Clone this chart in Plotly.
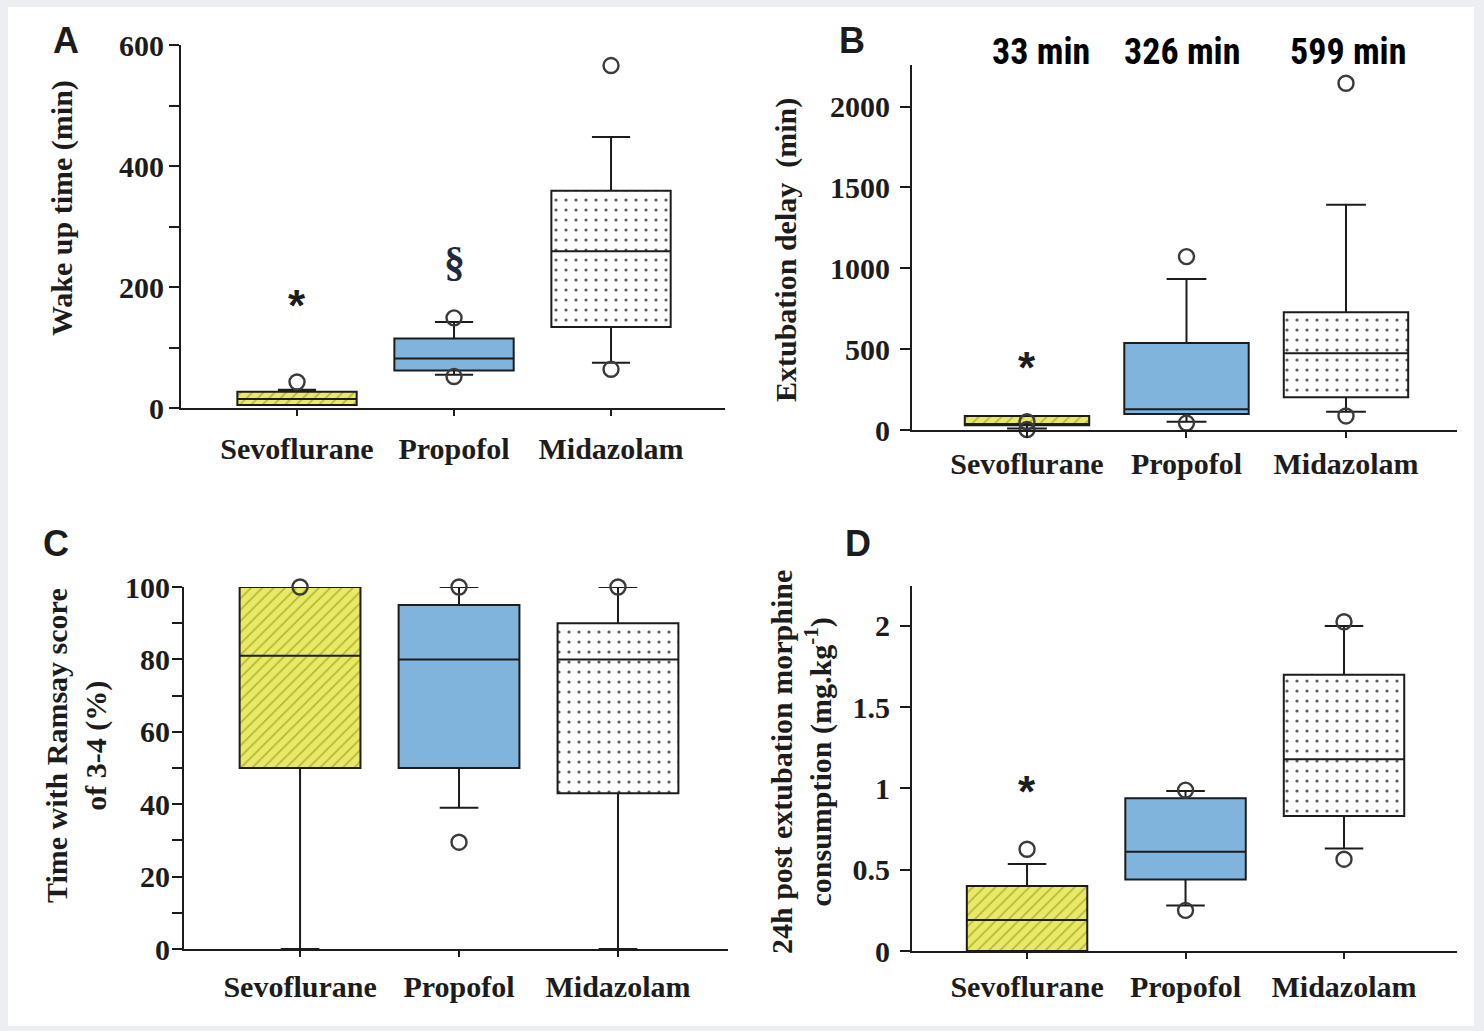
import plotly.graph_objects as go

W, H = 1484, 1031

categories = ["Sevoflurane", "Propofol", "Midazolam"]
positions = [0, 1, 2]

# Panel A - Wake up time (min)
a_q1 = [5, 62, 134]
a_med = [15, 82, 259]
a_q3 = [27, 115, 359]
a_low = [5, 55, 75]
a_up = [30, 142, 448]
a_out_x = [0, 1, 1, 2, 2]
a_out_y = [43, 149, 52, 566, 64]
a_ticks = [0, 200, 400, 600]

# Panel B - Extubation delay (min)
b_q1 = [30, 99, 202]
b_med = [37, 128, 474]
b_q3 = [86, 538, 728]
b_low = [10, 51, 113]
b_up = [86, 934, 1393]
b_out_x = [0, 0, 1, 1, 2, 2]
b_out_y = [51, 3, 1072, 43, 2144, 87]
b_ticks = [0, 500, 1000, 1500, 2000]
b_header = ["33 min", "326 min", "599 min"]

# Panel C - Time with Ramsay score of 3-4 (%)
c_q1 = [50, 50, 43]
c_med = [81, 80, 80]
c_q3 = [100, 95, 90]
c_low = [0, 39, 0]
c_up = [100, 100, 100]
c_out_x = [0, 1, 1, 2]
c_out_y = [100, 100, 29.5, 100]
c_ticks = [0, 20, 40, 60, 80, 100]

# Panel D - 24h post extubation morphine consumption (mg.kg-1)
d_q1 = [0, 0.44, 0.83]
d_med = [0.19, 0.61, 1.18]
d_q3 = [0.40, 0.94, 1.70]
d_low = [0, 0.28, 0.63]
d_up = [0.535, 0.985, 2.0]
d_out_x = [0, 1, 1, 2, 2]
d_out_y = [0.626, 0.99, 0.25, 2.026, 0.565]
d_ticks = [0, 0.5, 1, 1.5, 2]
d_ticktext = ["0", "0.5", "1", "1.5", "2"]

YELLOW = "#e8ea66"
HATCH = "#b4b43a"
BLUE = "#80b4dc"
INK = "#1c1c1c"
SERIF = "Liberation Serif, Times New Roman, serif"
SANS = "Liberation Sans, Arial, sans-serif"


def px_x(x):
    return x / W


def px_y(y):
    return 1 - y / H


fig = go.Figure()

panels = [
    dict(key="", q1=a_q1, med=a_med, q3=a_q3, low=a_low, up=a_up, ox=a_out_x, oy=a_out_y,
         xdom=(181, 725), ydom=(408, 45), xr=(-0.739, 2.726), yr=(0, 600),
         ticks=a_ticks, ticktext=[str(t) for t in a_ticks], minor=100, width=0.76,
         standoff=7, ystandoff=-1),
    dict(key="2", q1=b_q1, med=b_med, q3=b_q3, low=b_low, up=b_up, ox=b_out_x, oy=b_out_y,
         xdom=(912, 1457), ydom=(430, 65), xr=(-0.721, 2.696), yr=(0, 2257),
         ticks=b_ticks, ticktext=[str(t) for t in b_ticks], minor=None, width=0.78,
         standoff=0, ystandoff=4),
    dict(key="3", q1=c_q1, med=c_med, q3=c_q3, low=c_low, up=c_up, ox=c_out_x, oy=c_out_y,
         xdom=(184, 728), ydom=(949, 587), xr=(-0.730, 2.692), yr=(0, 100),
         ticks=c_ticks, ticktext=[str(t) for t in c_ticks], minor=10, width=0.76,
         standoff=4, ystandoff=-4),
    dict(key="4", q1=d_q1, med=d_med, q3=d_q3, low=d_low, up=d_up, ox=d_out_x, oy=d_out_y,
         xdom=(912, 1457), ydom=(951, 586), xr=(-0.726, 2.713), yr=(0, 2.246),
         ticks=d_ticks, ticktext=d_ticktext, minor=None, width=0.76,
         standoff=2, ystandoff=4),
]

patterns = {
    0: dict(shape="/", fgcolor=HATCH, bgcolor=YELLOW, size=8, solidity=0.2),
    2: dict(shape=".", fgcolor="#5c5c5c", bgcolor="white", size=10, solidity=0.08),
}

layout_axes = {}
for p in panels:
    k = p["key"]
    xref = "x" + k
    yref = "y" + k
    # patterned fills (Sevoflurane hatch, Midazolam dots)
    for i, pat in patterns.items():
        fig.add_trace(go.Bar(
            x=[positions[i]], base=[p["q1"][i]], y=[p["q3"][i] - p["q1"][i]],
            width=p["width"],
            marker=dict(color=pat["bgcolor"], line=dict(width=0),
                        pattern=dict(shape=pat["shape"], fgcolor=pat["fgcolor"],
                                     bgcolor=pat["bgcolor"], size=pat["size"],
                                     solidity=pat["solidity"], fillmode="replace")),
            xaxis=xref, yaxis=yref, showlegend=False, hoverinfo="skip",
        ))
    fills = ["rgba(0,0,0,0)", BLUE, "rgba(0,0,0,0)"]
    for i, cat in enumerate(categories):
        fig.add_trace(go.Box(
            x=[positions[i]], q1=[p["q1"][i]], median=[p["med"][i]], q3=[p["q3"][i]],
            lowerfence=[p["low"][i]], upperfence=[p["up"][i]],
            width=p["width"], whiskerwidth=0.32, boxpoints=False,
            fillcolor=fills[i], line=dict(color=INK, width=2),
            name=cat, showlegend=False, xaxis=xref, yaxis=yref,
        ))
    fig.add_trace(go.Scatter(
        x=p["ox"], y=p["oy"], mode="markers",
        marker=dict(symbol="circle-open", size=15, color="#3a3a3a", line=dict(width=2.4)),
        cliponaxis=False, showlegend=False, xaxis=xref, yaxis=yref, hoverinfo="skip",
    ))
    xa = dict(domain=[px_x(p["xdom"][0]), px_x(p["xdom"][1])], range=list(p["xr"]),
              showline=True, linecolor=INK, linewidth=2, ticks="outside", ticklen=6,
              tickwidth=2, tickcolor=INK, tickvals=positions, ticktext=categories,
              tickfont=dict(family=SERIF, size=30, color=INK, weight="bold"),
              ticklabelstandoff=p["standoff"], automargin=False,
              showgrid=False, zeroline=False, anchor=yref, fixedrange=True)
    ya = dict(domain=[px_y(p["ydom"][0]), px_y(p["ydom"][1])], range=list(p["yr"]),
              showline=True, linecolor=INK, linewidth=2, ticks="outside", ticklen=10,
              tickwidth=2, tickcolor=INK, tickvals=p["ticks"], ticktext=p["ticktext"],
              tickfont=dict(family=SERIF, size=30, color=INK, weight="bold"),
              ticklabelstandoff=p["ystandoff"], automargin=False,
              showgrid=False, zeroline=False, anchor=xref, fixedrange=True)
    if p["minor"]:
        ya["minor"] = dict(dtick=p["minor"], tick0=0, ticks="outside", ticklen=10,
                           tickwidth=2, tickcolor=INK, showgrid=False)
    layout_axes["xaxis" + k] = xa
    layout_axes["yaxis" + k] = ya

annotations = []
# panel letters
for letter, (x, y) in zip(["A", "B", "C", "D"], [(66, 40), (852, 40), (56, 543), (858, 543)]):
    annotations.append(dict(text="<b>%s</b>" % letter, x=px_x(x), y=px_y(y), xref="paper", yref="paper",
                            showarrow=False, xanchor="center", yanchor="middle",
                            font=dict(family=SANS, size=36, color=INK)))
# axis titles
titles = [
    ("<b>Wake up time (min)</b>", 62, 208),
    ("<b>Extubation delay  (min)</b>", 786, 250),
    ("<b>Time with Ramsay score</b><br><b>of 3-4 (%)</b>", 76, 746),
    ("<b>24h post extubation morphine</b><br><b>consumption (mg.kg<sup>-1</sup>)</b>", 801, 762),
]
for t, x, y in titles:
    annotations.append(dict(text=t, x=px_x(x), y=px_y(y), xref="paper", yref="paper",
                            showarrow=False, textangle=-90, xanchor="center", yanchor="middle",
                            font=dict(family=SERIF, size=30, color=INK)))
# header labels in panel B
for t, x in zip(b_header, [1041, 1182, 1348]):
    annotations.append(dict(text="<b>%s</b>" % t, x=px_x(x), y=px_y(52), xref="paper", yref="paper",
                            showarrow=False, xanchor="center", yanchor="middle",
                            font=dict(family="Liberation Sans Narrow, Roboto Condensed, Arial Narrow, Liberation Sans, sans-serif",
                                      size=36, color="#000")))
# significance markers
sig = [("*", "x", "y", 0, 182), ("§", "x", "y", 1, 241), ("*", "x2", "y2", 0, 433), ("*", "x4", "y4", 0, 1.03)]
for s, xr, yr, x, y in sig:
    if s == "*":
        annotations.append(dict(text="<b>*</b>", x=x, y=y, xref=xr, yref=yr, showarrow=False,
                                xanchor="center", yanchor="middle", yshift=-8,
                                font=dict(family=SANS, size=44, color=INK)))
    else:
        annotations.append(dict(text="<b>§</b>", x=x, y=y, xref=xr, yref=yr, showarrow=False,
                                xanchor="center", yanchor="middle",
                                font=dict(family=SERIF, size=42, color="#1f2a40")))

fig.update_layout(
    width=W, height=H,
    margin=dict(l=0, r=0, t=0, b=0, pad=0, autoexpand=False),
    paper_bgcolor="#eceef1",
    plot_bgcolor="white",
    barmode="overlay",
    boxmode="overlay",
    showlegend=False,
    annotations=annotations,
    shapes=[dict(type="rect", xref="paper", yref="paper", x0=px_x(8), x1=px_x(1474),
                 y0=px_y(1026), y1=px_y(7), fillcolor="white", line=dict(width=0), layer="below")],
    **layout_axes,
)

fig.write_html("out.html")
